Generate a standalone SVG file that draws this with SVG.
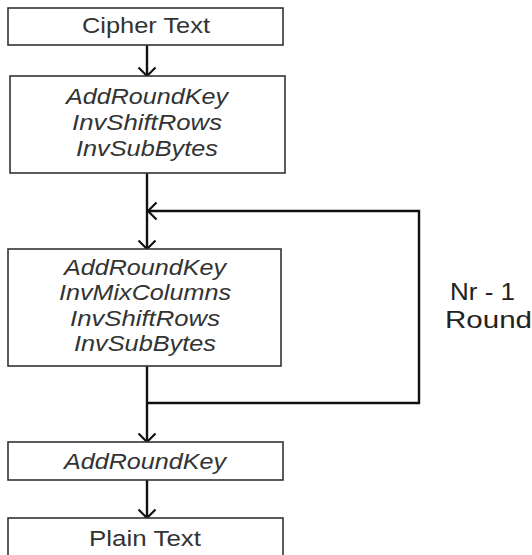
<svg xmlns="http://www.w3.org/2000/svg" width="532" height="555" viewBox="0 0 532 555">
<defs>
<marker id="ah" markerWidth="20" markerHeight="20" refX="10" refY="10" orient="auto" markerUnits="userSpaceOnUse">
<path d="M1.5,1.5 L10,10 L1.5,18.5" fill="none" stroke="#111" stroke-width="2.2"/>
</marker>
<style>
.box{fill:#fff;stroke:#333;stroke-width:1.6}
.t{font-family:"Liberation Sans",Arial,sans-serif;font-size:22px;fill:#333;text-anchor:middle}
.i{font-style:italic}
.lbl{font-size:24px;fill:#222;text-anchor:start}
.c{fill:none;stroke:#111;stroke-width:2.4}
</style>
</defs>
<rect width="532" height="555" fill="#fff"/>
<g id="connectors">
<line class="c" x1="147" y1="45" x2="147" y2="76" marker-end="url(#ah)"/>
<line class="c" x1="147" y1="173" x2="147" y2="249" marker-end="url(#ah)"/>
<polyline class="c" points="147,403 419,403 419,211 148,211" marker-end="url(#ah)"/>
<line class="c" x1="147" y1="366" x2="147" y2="442" marker-end="url(#ah)"/>
<line class="c" x1="147" y1="480" x2="147" y2="518" marker-end="url(#ah)"/>
</g>
<g id="cipher">
<rect class="box" x="8" y="8" width="275" height="37"/>
<text class="t" x="146" y="33" textLength="128" lengthAdjust="spacingAndGlyphs">Cipher Text</text>
</g>
<g id="initial-round">
<rect class="box" x="10" y="76" width="275" height="97"/>
<text class="t i" x="147" y="104" textLength="162" lengthAdjust="spacingAndGlyphs">AddRoundKey</text>
<text class="t i" x="147" y="130" textLength="150" lengthAdjust="spacingAndGlyphs">InvShiftRows</text>
<text class="t i" x="147" y="156" textLength="142" lengthAdjust="spacingAndGlyphs">InvSubBytes</text>
</g>
<g id="main-round">
<rect class="box" x="8" y="249" width="273" height="117"/>
<text class="t i" x="145" y="275" textLength="162" lengthAdjust="spacingAndGlyphs">AddRoundKey</text>
<text class="t i" x="145" y="300" textLength="172" lengthAdjust="spacingAndGlyphs">InvMixColumns</text>
<text class="t i" x="145" y="326" textLength="150" lengthAdjust="spacingAndGlyphs">InvShiftRows</text>
<text class="t i" x="145" y="351" textLength="142" lengthAdjust="spacingAndGlyphs">InvSubBytes</text>
</g>
<g id="loop-label">
<text class="t lbl" x="450" y="300" textLength="65" lengthAdjust="spacingAndGlyphs">Nr - 1</text>
<text class="t lbl" x="445" y="328" textLength="87" lengthAdjust="spacingAndGlyphs">Round</text>
</g>
<g id="final-round">
<rect class="box" x="8" y="442" width="275" height="38"/>
<text class="t i" x="145" y="469" textLength="162" lengthAdjust="spacingAndGlyphs">AddRoundKey</text>
</g>
<g id="plain">
<rect class="box" x="8" y="518" width="275" height="45"/>
<text class="t" x="145" y="546" textLength="112" lengthAdjust="spacingAndGlyphs">Plain Text</text>
</g>
</svg>
